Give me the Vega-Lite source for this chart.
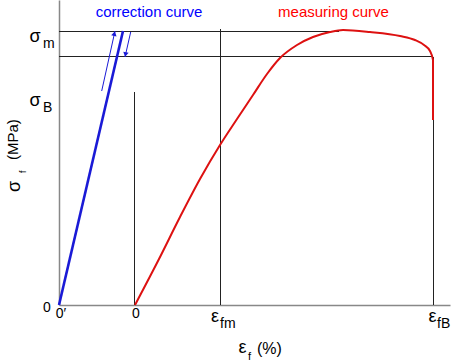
{
  "$schema": "https://vega.github.io/schema/vega-lite/v6.json",
  "width": 391,
  "height": 305,
  "autosize": "none",
  "padding": {"left": 59, "top": 0, "right": 10, "bottom": 59},
  "config": {
    "view": {"stroke": null},
    "font": "Liberation Sans",
    "axis": {"domainColor": "#888888", "domainWidth": 1.5, "ticks": false, "labels": false, "grid": false}
  },
  "datasets": {
    "blue": [{"x": 0, "y": 0}, {"x": 64, "y": 274}],
    "red": [
      {"o": 1, "x": 76, "y": 0}, {"o": 2, "x": 100, "y": 46}, {"o": 3, "x": 121, "y": 88},
      {"o": 4, "x": 141, "y": 126}, {"o": 5, "x": 161, "y": 160}, {"o": 6, "x": 178, "y": 186},
      {"o": 7, "x": 194, "y": 210}, {"o": 8, "x": 208, "y": 231}, {"o": 9, "x": 221, "y": 247},
      {"o": 10, "x": 238, "y": 260}, {"o": 11, "x": 254, "y": 268}, {"o": 12, "x": 271, "y": 273},
      {"o": 13, "x": 284, "y": 275}, {"o": 14, "x": 311, "y": 273}, {"o": 15, "x": 341, "y": 269},
      {"o": 16, "x": 356, "y": 265}, {"o": 17, "x": 365, "y": 260}, {"o": 18, "x": 371, "y": 254},
      {"o": 19, "x": 374, "y": 245}, {"o": 20, "x": 374, "y": 185}
    ],
    "arrows": [
      {"id": "up", "o": 1, "x": 42.7, "y": 214}, {"id": "up", "o": 2, "x": 56, "y": 274},
      {"id": "dn", "o": 1, "x": 71.7, "y": 273}, {"id": "dn", "o": 2, "x": 66, "y": 248}
    ],
    "rules": [
      {"x": 75.5, "x2": 75.5, "y": 0, "y2": 213},
      {"x": 161.5, "x2": 161.5, "y": 0, "y2": 276},
      {"x": 374.5, "x2": 374.5, "y": 0, "y2": 248},
      {"x": 0, "x2": 280, "y": 273.5, "y2": 273.5},
      {"x": 0, "x2": 374, "y": 248.5, "y2": 248.5}
    ],
    "labels": [
      {"g": "glyph", "t": "σ", "x": -24, "y": 263},
      {"g": "glyph", "t": "σ", "x": -24, "y": 199},
      {"g": "glyph", "t": "ε", "x": 156, "y": -17},
      {"g": "glyph", "t": "ε", "x": 373.5, "y": -17},
      {"g": "glyph", "t": "ε", "x": 183.5, "y": -48},
      {"g": "sub", "t": "m", "x": -16, "y": 257},
      {"g": "sub", "t": "B", "x": -16, "y": 193},
      {"g": "sub", "t": "fm", "x": 161, "y": -23},
      {"g": "sub", "t": "fB", "x": 378, "y": -23},
      {"g": "small", "t": "f", "x": 189, "y": -55},
      {"g": "num", "t": "0", "x": -12, "y": -7},
      {"g": "num", "t": "0′", "x": 2, "y": -13},
      {"g": "num", "t": "0", "x": 77, "y": -13},
      {"g": "pct", "t": "(%)", "x": 198, "y": -49},
      {"g": "ytitle", "t": "σ", "x": -39.5, "y": 113},
      {"g": "ytitlesub", "t": "f", "x": -33, "y": 132},
      {"g": "ytitlerest", "t": "(MPa)", "x": -41, "y": 145}
    ],
    "anno": [
      {"t": "correction curve", "c": "blue", "x": 90, "y": 288},
      {"t": "measuring curve", "c": "red", "x": 274.5, "y": 288}
    ]
  },
  "layer": [
    {
      "data": {"name": "rules"},
      "mark": {"type": "rule", "color": "#222222", "strokeWidth": 1},
      "encoding": {
        "x": {"field": "x", "type": "quantitative", "scale": {"domain": [0, 391], "nice": false, "zero": false}, "title": null},
        "x2": {"field": "x2"},
        "y": {"field": "y", "type": "quantitative", "scale": {"domain": [0, 305], "nice": false, "zero": false}, "title": null},
        "y2": {"field": "y2"}
      }
    },
    {
      "data": {"name": "blue"},
      "mark": {"type": "line", "color": "#1a1ad6", "strokeWidth": 2.6},
      "encoding": {
        "x": {"field": "x", "type": "quantitative", "title": null},
        "y": {"field": "y", "type": "quantitative", "title": null}
      }
    },
    {
      "data": {"name": "arrows"},
      "mark": {"type": "line", "color": "#1a1ad6", "strokeWidth": 1},
      "encoding": {
        "x": {"field": "x", "type": "quantitative", "title": null},
        "y": {"field": "y", "type": "quantitative", "title": null},
        "detail": {"field": "id"},
        "order": {"field": "o"}
      }
    },
    {
      "data": {"name": "arrows"},
      "transform": [{"filter": "datum.id == 'up' && datum.o == 2"}],
      "mark": {"type": "point", "shape": "triangle-up", "filled": true, "color": "#1a1ad6", "size": 30, "angle": 13, "opacity": 1, "yOffset": 2.5, "xOffset": -0.6},
      "encoding": {
        "x": {"field": "x", "type": "quantitative", "title": null},
        "y": {"field": "y", "type": "quantitative", "title": null}
      }
    },
    {
      "data": {"name": "arrows"},
      "transform": [{"filter": "datum.id == 'dn' && datum.o == 2"}],
      "mark": {"type": "point", "shape": "triangle-down", "filled": true, "color": "#1a1ad6", "size": 30, "angle": 11, "opacity": 1, "yOffset": -2.5, "xOffset": 0.5},
      "encoding": {
        "x": {"field": "x", "type": "quantitative", "title": null},
        "y": {"field": "y", "type": "quantitative", "title": null}
      }
    },
    {
      "data": {"name": "red"},
      "mark": {"type": "line", "color": "#dd1111", "strokeWidth": 2, "interpolate": "monotone"},
      "encoding": {
        "x": {"field": "x", "type": "quantitative", "title": null},
        "y": {"field": "y", "type": "quantitative", "title": null},
        "order": {"field": "o"}
      }
    },
    {
      "data": {"name": "anno"},
      "mark": {"type": "text", "fontSize": 15, "align": "center", "baseline": "alphabetic"},
      "encoding": {
        "x": {"field": "x", "type": "quantitative"},
        "y": {"field": "y", "type": "quantitative"},
        "text": {"field": "t"},
        "color": {"field": "c", "type": "nominal", "scale": {"domain": ["blue", "red"], "range": ["#0000ff", "#ff0000"]}, "legend": null}
      }
    },
    {
      "data": {"name": "labels"},
      "transform": [{"filter": "datum.g == 'glyph'"}],
      "mark": {"type": "text", "fontSize": 18, "align": "center", "baseline": "alphabetic", "color": "#000000"},
      "encoding": {"x": {"field": "x", "type": "quantitative"}, "y": {"field": "y", "type": "quantitative"}, "text": {"field": "t"}}
    },
    {
      "data": {"name": "labels"},
      "transform": [{"filter": "datum.g == 'sub'"}],
      "mark": {"type": "text", "fontSize": 14, "align": "left", "baseline": "alphabetic", "color": "#000000"},
      "encoding": {"x": {"field": "x", "type": "quantitative"}, "y": {"field": "y", "type": "quantitative"}, "text": {"field": "t"}}
    },
    {
      "data": {"name": "labels"},
      "transform": [{"filter": "datum.g == 'small'"}],
      "mark": {"type": "text", "fontSize": 11, "align": "left", "baseline": "alphabetic", "color": "#000000"},
      "encoding": {"x": {"field": "x", "type": "quantitative"}, "y": {"field": "y", "type": "quantitative"}, "text": {"field": "t"}}
    },
    {
      "data": {"name": "labels"},
      "transform": [{"filter": "datum.g == 'num'"}],
      "mark": {"type": "text", "fontSize": 14, "align": "center", "baseline": "alphabetic", "color": "#000000"},
      "encoding": {"x": {"field": "x", "type": "quantitative"}, "y": {"field": "y", "type": "quantitative"}, "text": {"field": "t"}}
    },
    {
      "data": {"name": "labels"},
      "transform": [{"filter": "datum.g == 'pct'"}],
      "mark": {"type": "text", "fontSize": 16, "align": "left", "baseline": "alphabetic", "color": "#000000"},
      "encoding": {"x": {"field": "x", "type": "quantitative"}, "y": {"field": "y", "type": "quantitative"}, "text": {"field": "t"}}
    },
    {
      "data": {"name": "labels"},
      "transform": [{"filter": "datum.g == 'ytitle'"}],
      "mark": {"type": "text", "fontSize": 18, "align": "left", "baseline": "alphabetic", "angle": 270, "color": "#000000"},
      "encoding": {"x": {"field": "x", "type": "quantitative"}, "y": {"field": "y", "type": "quantitative"}, "text": {"field": "t"}}
    },
    {
      "data": {"name": "labels"},
      "transform": [{"filter": "datum.g == 'ytitlesub'"}],
      "mark": {"type": "text", "fontSize": 9, "align": "left", "baseline": "alphabetic", "angle": 270, "color": "#000000"},
      "encoding": {"x": {"field": "x", "type": "quantitative"}, "y": {"field": "y", "type": "quantitative"}, "text": {"field": "t"}}
    },
    {
      "data": {"name": "labels"},
      "transform": [{"filter": "datum.g == 'ytitlerest'"}],
      "mark": {"type": "text", "fontSize": 15, "align": "left", "baseline": "alphabetic", "angle": 270, "color": "#000000"},
      "encoding": {"x": {"field": "x", "type": "quantitative"}, "y": {"field": "y", "type": "quantitative"}, "text": {"field": "t"}}
    }
  ]
}
